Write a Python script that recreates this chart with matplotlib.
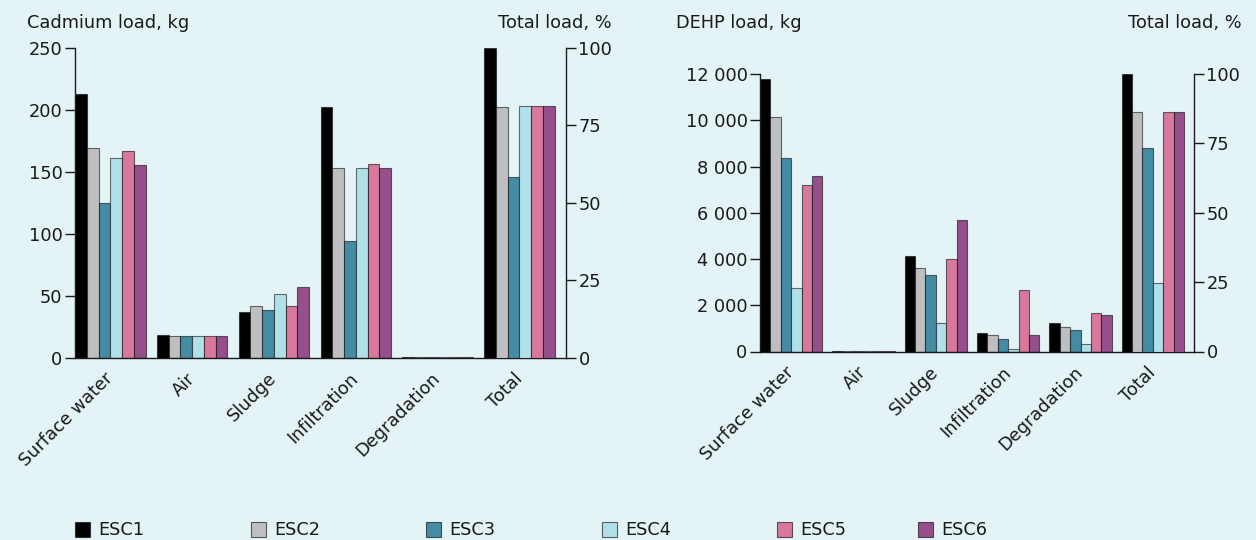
import numpy as np
import matplotlib
matplotlib.use('agg')
import matplotlib.pyplot as plt
from matplotlib.patches import Rectangle

## Data
categories = ["Surface water", "Air", "Sludge", "Infiltration", "Degradation"]
all_labels = categories + ["Total"]
scenarios = ["ESC1", "ESC2", "ESC3", "ESC4", "ESC5", "ESC6"]
colors = ["#000000", "#bfbfc1", "#468ba4", "#b1e1e8", "#d8789c", "#954f8b"]

# cadmium load per pathway, kg (one row per scenario)
cd_load = [
    [213, 18.3, 37.0, 202, 0.3],
    [169, 17.8, 42.0, 153, 0.3],
    [125, 17.2, 38.7, 94, 0.3],
    [161, 17.8, 51.0, 153, 0.3],
    [167, 17.8, 41.7, 156, 0.3],
    [155, 17.8, 57.3, 153, 0.3],
]
cd_total_pct = [100, 81.0, 58.2, 81.3, 81.3, 81.3]

# DEHP load per pathway, kg
dehp_load = [
    [11780, 40, 4120, 820, 1240],
    [10150, 5, 3610, 710, 1070],
    [8380, 5, 3320, 530, 950],
    [2760, 15, 1230, 120, 330],
    [7190, 5, 4010, 2640, 1680],
    [7570, 5, 5700, 710, 1570],
]
dehp_total_pct = [100, 86.4, 73.5, 24.8, 86.4, 86.4]

cd_ticks = [0, 50, 100, 150, 200, 250]
dehp_ticks = [0, 2000, 4000, 6000, 8000, 10000, 12000]
dehp_ticklabels = ["0", "2 000", "4 000", "6 000", "8 000", "10 000", "12 000"]
pct_ticks = [0, 25, 50, 75, 100]

## Style
bg = "#e4f3f6"
ink = "#1a1a1a"
fs = 12.8
W, H = 1256, 540
plt.rcParams['font.family'] = 'DejaVu Sans'
plt.rcParams['font.size'] = fs

group_frac = 0.862
bw = group_frac / len(scenarios)


def draw_panel(rect, load, total_pct, yticks, yticklabels):
    ax = fig.add_axes(rect)
    ax.patch.set_alpha(0)
    ax2 = ax.twinx()
    ax2.patch.set_alpha(0)
    n = len(categories)
    for j, name in enumerate(scenarios):
        xs = np.arange(n) + (j + 0.5) * bw
        ax.bar(xs, load[j], width=bw, color=colors[j],
               edgecolor=(0, 0, 0, 0.55), linewidth=0.8)
        ax2.bar([n + (j + 0.5) * bw], [total_pct[j]], width=bw, color=colors[j],
                edgecolor=(0, 0, 0, 0.55), linewidth=0.8)
    ax.set_xlim(0, n + 1)
    ax.set_ylim(0, yticks[-1])
    ax2.set_ylim(0, 100)
    ax.set_yticks(yticks)
    ax.set_yticklabels(yticklabels)
    ax2.set_yticks(pct_ticks)
    ax.set_xticks(np.arange(n + 1) + group_frac / 2)
    ax.set_xticklabels(all_labels, rotation=45, ha='right', va='center',
                       rotation_mode='anchor')
    for a in (ax, ax2):
        for s in a.spines.values():
            s.set_color(ink)
            s.set_linewidth(1.0)
        a.spines['top'].set_visible(False)
        a.tick_params(axis='y', direction='out', length=7, width=1.0,
                      colors=ink, labelsize=fs, pad=2)
    ax.spines['right'].set_visible(False)
    ax2.spines['left'].set_visible(False)
    ax2.spines['bottom'].set_visible(False)
    ax.tick_params(axis='x', length=0, pad=13, labelsize=fs, colors=ink)
    return ax, ax2


fig = plt.figure(figsize=(W / 100, H / 100), dpi=100, facecolor=bg)

draw_panel([75 / W, 1 - 357.7 / H, 491 / W, 310 / H],
           cd_load, cd_total_pct, cd_ticks, [str(t) for t in cd_ticks])
draw_panel([760 / W, 1 - 351.5 / H, 434 / W, 277.5 / H],
           dehp_load, dehp_total_pct, dehp_ticks, dehp_ticklabels)

# axis captions
fig.text(27 / W, 1 - 28 / H, "Cadmium load, kg", ha='left', va='baseline', color=ink)
fig.text(612 / W, 1 - 28 / H, "Total load, %", ha='right', va='baseline', color=ink)
fig.text(676 / W, 1 - 28 / H, "DEHP load, kg", ha='left', va='baseline', color=ink)
fig.text(1242 / W, 1 - 28 / H, "Total load, %", ha='right', va='baseline', color=ink)

# legend row along the bottom
legend_x = [75, 251, 426, 602, 777, 918]
for x, name, c in zip(legend_x, scenarios, colors):
    fig.add_artist(Rectangle((x / W, 1 - 537 / H), 15 / W, 15 / H,
                             transform=fig.transFigure, facecolor=c,
                             edgecolor=(0, 0, 0, 0.6), linewidth=0.8))
    fig.text((x + 23) / W, 1 - 530 / H, name, ha='left', va='center', color=ink)

fig.savefig('out.png', dpi=100, facecolor=bg)
